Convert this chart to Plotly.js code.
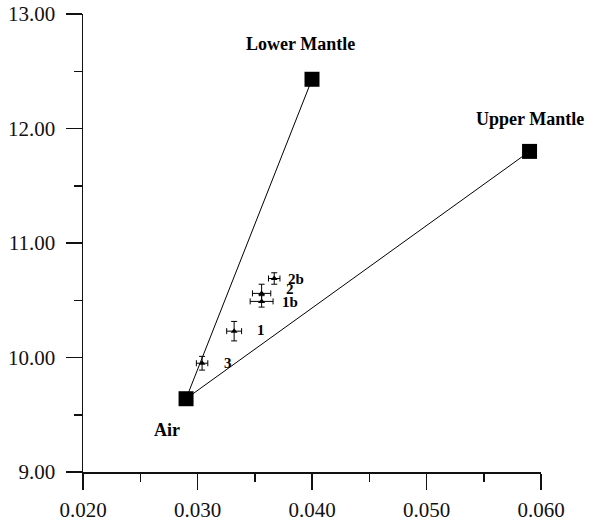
<!DOCTYPE html>
<html>
<head>
<meta charset="utf-8">
<script src="https://cdn.plot.ly/plotly-3.0.1.min.js"></script>
<style>html,body{margin:0;padding:0;background:#fff}#chart{width:601px;height:522px}</style>
</head>
<body>
<div id="chart"></div>
<script>
// End-members
const endNames = ["Air", "Lower Mantle", "Upper Mantle"];
const endX = [0.0290, 0.0400, 0.0590];
const endY = [9.64, 12.43, 11.80];

// Samples
const sampleNames = ["2b", "2", "1b", "1", "3"];
const sampleX = [0.0367, 0.0356, 0.0356, 0.0332, 0.0304];
const sampleY = [10.69, 10.56, 10.49, 10.23, 9.95];
const sampleXErr = [0.0005, 0.0008, 0.0010, 0.00065, 0.0005];
const sampleYErr = [0.05, 0.08, 0.05, 0.085, 0.06];

// Tick labels
const xTickVals = [0.02, 0.03, 0.04, 0.05, 0.06];
const xTickText = ["0.020", "0.030", "0.040", "0.050", "0.060"];
const yTickVals = [9, 10, 11, 12, 13];
const yTickText = ["9.00", "10.00", "11.00", "12.00", "13.00"];

const serif = "'Liberation Serif', 'Times New Roman', serif";

const traces = [
  { // Air -> Lower Mantle
    x: [endX[0], endX[1]], y: [endY[0], endY[1]],
    mode: "lines", line: {color: "#000", width: 1}, hoverinfo: "skip", cliponaxis: false
  },
  { // Air -> Upper Mantle
    x: [endX[0], endX[2]], y: [endY[0], endY[2]],
    mode: "lines", line: {color: "#000", width: 1}, hoverinfo: "skip", cliponaxis: false
  },
  {
    x: endX, y: endY, mode: "markers",
    marker: {symbol: "square", size: 15, color: "#000"}, cliponaxis: false
  },
  {
    x: sampleX, y: sampleY, mode: "markers",
    marker: {symbol: "triangle-up", size: 6, color: "#000"},
    error_x: {type: "data", array: sampleXErr, visible: true, color: "#000", thickness: 1, width: 3},
    error_y: {type: "data", array: sampleYErr, visible: true, color: "#000", thickness: 1, width: 3}
  }
];

const endShift = [[-19, -31], [-12, 35], [0, 32]];
const sampleShift = [[12, 0], [22, 4], [18, -1], [21, 1], [20, 0]];

const annotations = [];
endNames.forEach((n, i) => annotations.push({
  x: endX[i], y: endY[i], xref: "x", yref: "y", text: "<b>" + n + "</b>",
  showarrow: false, xanchor: "center", yanchor: "middle",
  xshift: endShift[i][0], yshift: endShift[i][1],
  font: {family: serif, size: 18, color: "#000"}
}));
sampleNames.forEach((n, i) => annotations.push({
  x: sampleX[i], y: sampleY[i], xref: "x", yref: "y", text: "<b>" + n + "</b>",
  showarrow: false, xanchor: "left", yanchor: "middle",
  xshift: sampleShift[i][0], yshift: sampleShift[i][1],
  font: {family: serif, size: 15, color: "#000"}
}));

function makeAxis(range, vals, text, minorDtick, standoff) {
  return {
    range: range, tickmode: "array", tickvals: vals, ticktext: text,
    showgrid: false, zeroline: false, showline: true, linecolor: "#111", linewidth: 1.5,
    ticks: "outside", ticklen: 16, tickwidth: 1.5, tickcolor: "#111",
    tickfont: {family: serif, size: 21, color: "#111"},
    minor: {ticks: "outside", ticklen: 8, tickwidth: 1.5, tickcolor: "#111", dtick: minorDtick, tick0: range[0]},
    ticklabelstandoff: standoff
  };
}

const layout = {
  width: 601, height: 522,
  margin: {l: 83, r: 60, t: 14, b: 50},
  font: {family: serif, size: 21, color: "#111"},
  paper_bgcolor: "#fff", plot_bgcolor: "#fff",
  showlegend: false,
  xaxis: makeAxis([0.02, 0.06], xTickVals, xTickText, 0.005, 2),
  yaxis: makeAxis([9, 13], yTickVals, yTickText, 0.5, 6),
  annotations: annotations
};

Plotly.newPlot("chart", traces, layout, {displayModeBar: false, staticPlot: true});
</script>
</body>
</html>
